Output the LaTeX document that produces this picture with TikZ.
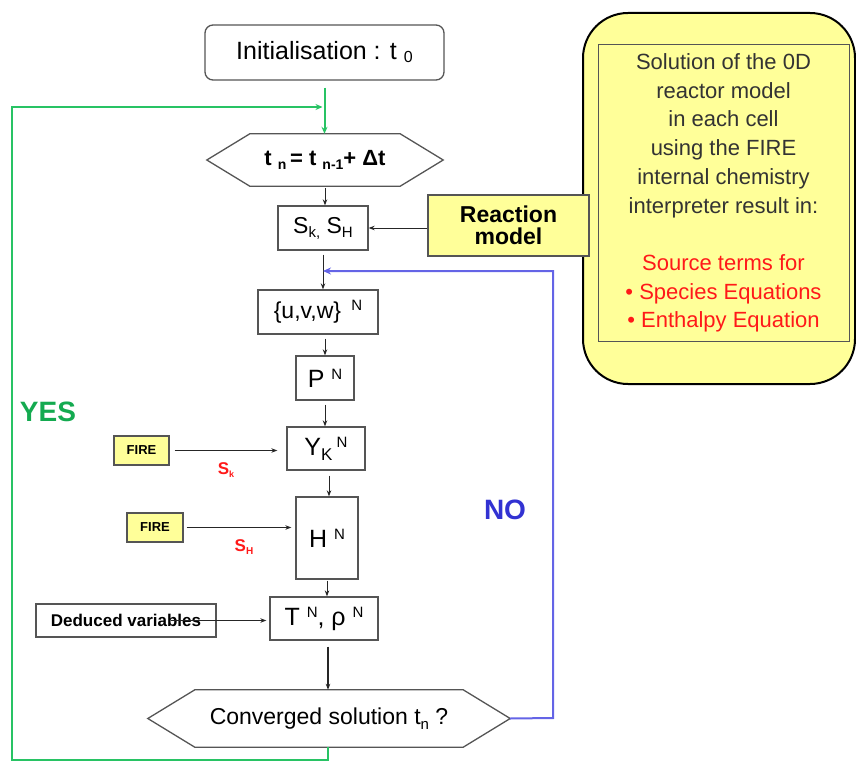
\documentclass[tikz,border=0pt]{standalone}
\usepackage{fontspec}
\setmainfont{Liberation Sans}
\usetikzlibrary{arrows.meta}
\definecolor{boxgray}{RGB}{85,85,85}
\definecolor{ylw}{RGB}{255,255,153}
\definecolor{grn}{RGB}{40,195,100}
\definecolor{grntxt}{RGB}{20,170,80}
\definecolor{blu}{RGB}{100,100,230}
\definecolor{blutxt}{RGB}{50,50,210}
\definecolor{redt}{RGB}{255,25,25}
\newcommand\lo[3]{\raisebox{-#1pt}{\fontsize{#2}{#2}\selectfont #3}}
\newcommand\hi[3]{\raisebox{#1pt}{\fontsize{#2}{#2}\selectfont #3}}
\begin{document}
\begin{tikzpicture}[x=1pt,y=-1pt,
  sz/.style 2 args={minimum width=#1,minimum height=#2},
  box/.style={draw=boxgray,line width=1.3pt,inner sep=0pt,align=center},
  ybox/.style={box,fill=ylw},
  hexa/.style={draw=boxgray,line width=1.3pt},
  arr/.style={draw=black!85,line width=1pt,-{Stealth[length=6pt,width=4.5pt]}},
  grnline/.style={draw=grn,line width=2pt},
  bluline/.style={draw=blu,line width=2pt},
  garr/.style={grnline,-{Stealth[length=7pt,width=6pt]}},
  barr/.style={bluline,-{Stealth[length=8pt,width=7pt]}},
  lab/.style={inner sep=0pt,font=\bfseries}]
\useasboundingbox (0,0) rectangle (856,762);

% right yellow panel (drawn first so the reaction box lies on it)
\node[draw=black,line width=2pt,fill=ylw,rounded corners=45pt,sz={272}{371}] (sol) at (719,198.5) {};
\node[draw=boxgray,line width=1pt,sz={251}{296},inner sep=0pt,align=center,
  font=\fontsize{22}{28.7}\selectfont,text=black!80] (soltxt) at (723.5,193)
  {Solution of the 0D\\reactor model\\in each cell\\using the FIRE\\internal chemistry\\interpreter result in:\\[28.7pt]
   \textcolor{redt}{Source terms for}\\\textcolor{redt}{• Species Equations}\\\textcolor{redt}{• Enthalpy Equation}};

% top
\node[box,sz={239}{55},rounded corners=8pt] (init) at (324.5,52.5)
  {\fontsize{25}{30}\selectfont Initialisation : t \lo{3}{16}{0}};

\node[inner sep=0pt,sz={236}{52}] (tn) at (325,160)
  {\fontsize{22}{28}\selectfont\bfseries t \lo{4}{14}{n}\,= t \lo{4}{14}{n-1}+ Δt};
\draw[hexa] (tn.west) -- ([xshift=43pt]tn.north west) -- ([xshift=-43pt]tn.north east)
  -- (tn.east) -- ([xshift=-43pt]tn.south east) -- ([xshift=43pt]tn.south west) -- cycle;

\node[box,sz={90}{44}] (S) at (323,228)
  {\fontsize{23}{28}\selectfont S\lo{4}{15}{k,} S\lo{4}{15}{H}};

\node[ybox,sz={161}{61},font=\fontsize{23}{21.5}\selectfont\bfseries] (react) at (508.5,225.5)
  {Reaction\\model};

% main column
\node[box,sz={120}{44}] (uvw) at (318,312)
  {\fontsize{23}{28}\selectfont \{u,v,w\}\, \hi{8}{15}{N}};
\node[box,sz={58}{44}] (P) at (325,378)
  {\fontsize{25}{28}\selectfont P \hi{8}{15}{N}};
\node[box,sz={78}{43}] (Y) at (326,448.5)
  {\fontsize{25}{28}\selectfont Y\lo{5}{17}{K}\,\hi{8}{15}{N}};
\node[box,sz={62}{82}] (H) at (327,538)
  {\fontsize{25}{28}\selectfont H \hi{8}{15}{N}};
\node[box,sz={108}{43}] (T) at (324,618.5)
  {\fontsize{25}{28}\selectfont T \hi{8}{15}{N}, ρ \hi{8}{15}{N}};

\node[ybox,sz={55}{29}] (F1) at (141.5,450.5) {\fontsize{13}{14}\selectfont\bfseries FIRE};
\node[ybox,sz={56}{29}] (F2) at (155,527.5) {\fontsize{13}{14}\selectfont\bfseries FIRE};
\node[box,sz={180}{33}] (ded) at (126,620.5) {\fontsize{17}{18}\selectfont\bfseries Deduced variables};

\node[lab,text=redt] (sk) at (226,470) {\fontsize{17}{17}\selectfont S\lo{3}{9}{k}};
\node[lab,text=redt] (sh) at (244,547) {\fontsize{17}{17}\selectfont S\lo{3}{10}{H}};

\node[inner sep=0pt,sz={362}{57}] (conv) at (329,718.5)
  {\fontsize{23}{28}\selectfont Converged solution t\lo{5}{15}{n} ?};
\draw[hexa] (conv.west) -- ([xshift=47pt]conv.north west) -- ([xshift=-47pt]conv.north east)
  -- (conv.east) -- ([xshift=-47pt]conv.south east) -- ([xshift=47pt]conv.south west) -- cycle;

\node[lab,text=grntxt] (yes) at (48,412) {\fontsize{28}{30}\selectfont YES};
\node[lab,text=blutxt] (no) at (505,510) {\fontsize{28}{30}\selectfont NO};

% black arrows
\draw[arr,shorten <=2pt] (tn.south) -- (tn.south |- S.north);
\draw[arr] (S.east -| react.west) -- (S.east);
\draw[arr,shorten <=4pt] (S.south) -- (S.south |- uvw.north);
\draw[arr,shorten <=4pt] (P.north |- uvw.south) -- (P.north);
\draw[arr,shorten <=4pt] (P.south) -- (P.south |- Y.north);
\draw[arr,shorten <=5pt] ([xshift=2pt]H.north |- Y.south) -- ([xshift=2pt]H.north);
\draw[arr,shorten <=1pt] (H.south) -- (H.south |- T.north);
\draw[arr,line width=1.6pt,shorten <=6pt] ([xshift=4pt]T.south) -- ([xshift=4pt]T.south |- conv.north);
\draw[arr,shorten <=5pt,shorten >=9pt] (F1.east) -- (F1.east -| Y.west);
\draw[arr,shorten <=3pt,shorten >=4pt] (F2.east) -- (F2.east -| H.west);
\draw[arr,shorten >=3pt] ([xshift=-46pt]ded.east) -- (ded.east -| T.west);

% green loop
\coordinate (gBL) at (12,760);
\coordinate (gTL) at (12,107);
\draw[garr,shorten <=7pt] (init.south) -- (init.south |- tn.north);
\draw[garr,shorten >=2pt] ([xshift=-1pt]conv.south) -- ([xshift=-1pt]conv.south |- gBL) -- (gBL) -- (gTL) -- (init.south |- gTL);

% blue loop
\coordinate (bBR) at (553,718);
\coordinate (bTR) at (553,271);
\draw[barr,shorten >=-5pt] (conv.east) -- (bBR) -- (bTR) -- ([xshift=5pt]S.south |- bTR);
\end{tikzpicture}
\end{document}
